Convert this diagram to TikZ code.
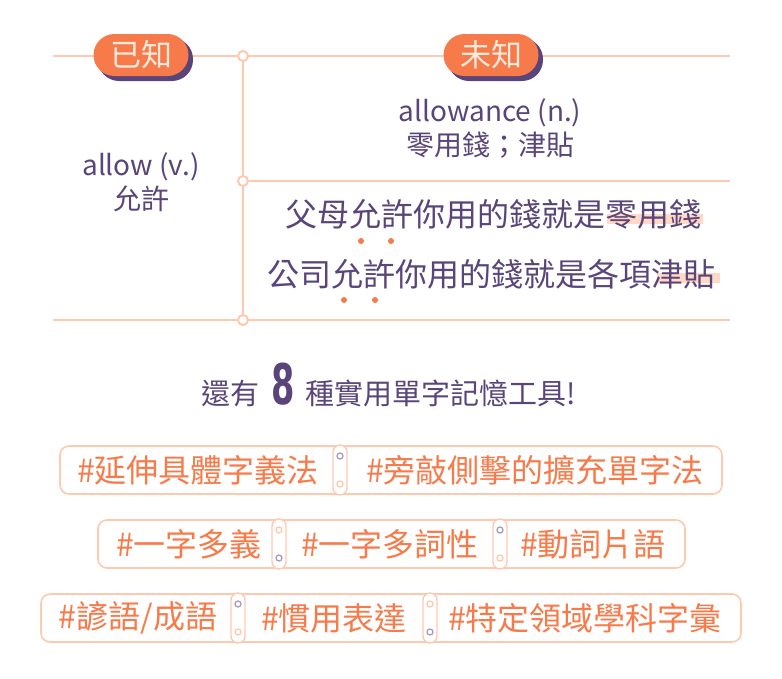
\documentclass[tikz,border=0pt]{standalone}
\usepackage{fontspec}
\setmainfont{Noto Sans CJK TC}
\usetikzlibrary{positioning}
\definecolor{peach}{HTML}{FFC9B0}
\definecolor{coral}{HTML}{F77B4A}
\definecolor{plum}{HTML}{5A457A}
\definecolor{cream}{HTML}{FFEBDD}
\definecolor{lilac}{HTML}{A79BC2}
\tikzset{
  rule/.style={peach, line width=1.6pt},
  knob/.style={circle, draw=peach, fill=white, line width=2pt, inner sep=0pt, minimum size=10pt},
  tag/.style={rounded corners=21pt, fill=coral, text=cream, minimum width=95pt, minimum height=42pt, font=\fontsize{31}{31}\selectfont},
  word/.style={text=plum, font=\fontsize{28}{34}\selectfont, align=center},
  sentence/.style={text=plum, font=\fontsize{32}{32}\selectfont},
  hint/.style={peach!80, line width=10pt, opacity=0.9},
  dot/.style={circle, fill=coral, inner sep=0pt, minimum size=6pt},
  tool/.style={draw=peach, line width=1.6pt, rounded corners=9pt, minimum height=48pt},
  toolname/.style={text=coral, font=\fontsize{32}{32}\selectfont},
  pin/.style={draw=peach, fill=white, line width=1.4pt, rounded corners=7pt, minimum width=14pt, minimum height=50pt},
  bolt/.style={circle, draw=#1, line width=1.3pt, fill=white, inner sep=0pt, minimum size=6pt}
}
\begin{document}
\begin{tikzpicture}[x=1pt,y=-1pt]
\useasboundingbox (0,0) rectangle (782,678);
% grid lines
\coordinate (tl) at (53,56);
\coordinate (tr) at (730,56);
\coordinate (mr) at (730,181);
\coordinate (bl) at (53,320);
\coordinate (br) at (730,320);
\node[knob] (k1) at (243,56) {};
\node[knob] (k2) at (243,181) {};
\node[knob] (k3) at (243,320) {};
\draw[rule] (tl) -- (k1);
\draw[rule] (k1) -- (tr);
\draw[rule] (k2) -- (mr);
\draw[rule] (bl) -- (k3);
\draw[rule] (k3) -- (br);
\draw[rule] (k1) -- (k2);
\draw[rule] (k2) -- (k3);
% tags
\fill[plum, rounded corners=21pt] (98,38) rectangle (193,81);
\node[tag] (known) at (141,55) {已知};
\fill[plum, rounded corners=21pt] (448,38) rectangle (543,81);
\node[tag] (unknown) at (491,55) {未知};
% words
\node[word] (verb) at (141,182) {allow (v.)\\允許};
\node[word] (noun) at (490,128) {allowance (n.)\\零用錢；津貼};
\draw[hint] (607,219) -- (703,219);
\draw[hint] (657,278) -- (720,278);
\node[sentence] (ex1) at (493,214) {父母允許你用的錢就是零用錢};
\node[sentence] (ex2) at (491,274) {公司允許你用的錢就是各項津貼};
\node[dot] (d1) at (361,241) {};
\node[dot] (d2) at (391,241) {};
\node[dot] (d3) at (344,300) {};
\node[dot] (d4) at (375,300) {};
% headline
\node[text=plum, font=\fontsize{29}{29}\selectfont] (head) at (389,385)
  {還有\, {\fontspec{DejaVu Sans}[FakeStretch=0.6]\bfseries\fontsize{56}{56}\selectfont 8}\, 種實用單字記憶工具!};
% tools row 1
\node[tool, minimum width=662pt] (r1) at (391,470) {};
\node[toolname] (t11) at (198,470) {\#延伸具體字義法};
\node[toolname] (t12) at (535,470) {\#旁敲側擊的擴充單字法};
\node[pin] (p11) at (340,470) {};
\node[bolt=lilac] at ([yshift=14pt]p11.center) {};
\node[bolt=peach] at ([yshift=-14pt]p11.center) {};
% tools row 2
\node[tool, minimum width=587pt] (r2) at (391.5,544) {};
\node[toolname] (t21) at (189,544) {\#一字多義};
\node[toolname] (t22) at (390,544) {\#一字多詞性};
\node[toolname] (t23) at (593,544) {\#動詞片語};
\node[pin] (p21) at (279,544) {};
\node[bolt=peach] at ([yshift=14pt]p21.center) {};
\node[bolt=lilac] at ([yshift=-14pt]p21.center) {};
\node[pin] (p22) at (500,544) {};
\node[bolt=lilac] at ([yshift=14pt]p22.center) {};
\node[bolt=peach] at ([yshift=-14pt]p22.center) {};
% tools row 3
\node[tool, minimum width=700pt] (r3) at (391,618) {};
\node[toolname] (t31) at (138,618) {\#諺語/成語};
\node[toolname] (t32) at (334,618) {\#慣用表達};
\node[toolname] (t33) at (585,618) {\#特定領域學科字彙};
\node[pin] (p31) at (238,618) {};
\node[bolt=lilac] at ([yshift=14pt]p31.center) {};
\node[bolt=peach] at ([yshift=-14pt]p31.center) {};
\node[pin] (p32) at (430,618) {};
\node[bolt=peach] at ([yshift=14pt]p32.center) {};
\node[bolt=lilac] at ([yshift=-14pt]p32.center) {};
\end{tikzpicture}
\end{document}
